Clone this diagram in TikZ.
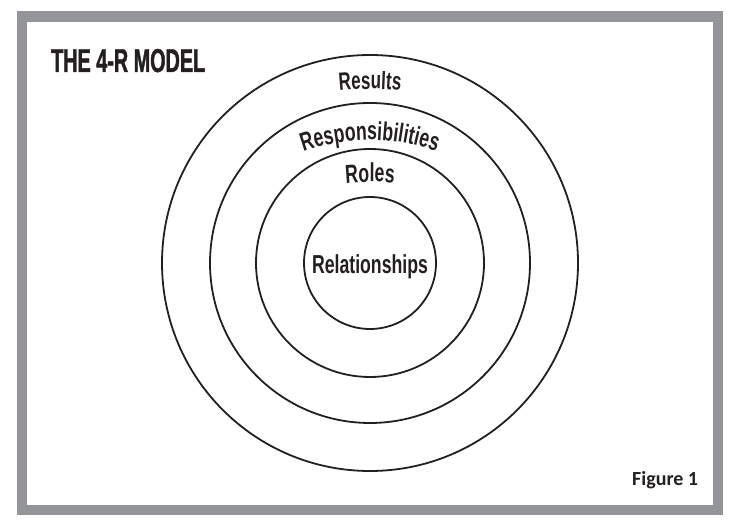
\documentclass[tikz,border=0pt]{standalone}
\usepackage{fontspec}
\usetikzlibrary{decorations.text}
\newfontfamily\titlefont[FakeStretch=0.6,FakeBold=1.2]{Liberation Sans Bold}
\newfontfamily\labelfont[FakeStretch=0.68]{Liberation Sans Bold}
\newfontfamily\figfont{Carlito Bold}
\definecolor{framegray}{RGB}{147,149,152}
\definecolor{ink}{RGB}{35,31,32}

\begin{document}
\begin{tikzpicture}[x=1pt, y=1pt,
    ring/.style={draw=ink, line width=1.8pt}]
    \useasboundingbox (0,0) rectangle (738,532);
    % frame
    \draw[framegray, line width=10.5pt] (22,22) rectangle (718,515.5);
    \node[anchor=base west, inner sep=0pt, text=ink, font=\titlefont\fontsize{33}{33}\selectfont] (title) at (51,460) {THE 4-R MODEL};
    \node[anchor=base west, inner sep=0pt, text=ink, font=\figfont\fontsize{20}{20}\selectfont] (figure) at (632,46) {Figure 1};
    % rings
    \coordinate (c) at (370,269);
    \foreach \r in {208,160,114,66}
      \draw[ring] (c) circle[radius=\r];
    % ring labels
    \path[decorate, decoration={text along path, text align=center, text color=ink,
      text={|\labelfont\fontsize{25}{25}\selectfont|Results}}]
      (370,143) ++(110:300) arc[start angle=110, end angle=70, radius=300];
    \path[decorate, decoration={text along path, text align=center, text color=ink,
      text={|\labelfont\fontsize{26}{26}\selectfont|Responsibilities}}]
      (370,192) ++(125:200) arc[start angle=125, end angle=55, radius=200];
    \path[decorate, decoration={text along path, text align=center, text color=ink,
      text={|\labelfont\fontsize{26}{26}\selectfont|Roles}}]
      (370,100) ++(110:250) arc[start angle=110, end angle=70, radius=250];
    \node[anchor=base, inner sep=0pt, text=ink, font=\labelfont\fontsize{26}{26}\selectfont] (relationships) at (370,258) {Relationships};
\end{tikzpicture}
\end{document}
